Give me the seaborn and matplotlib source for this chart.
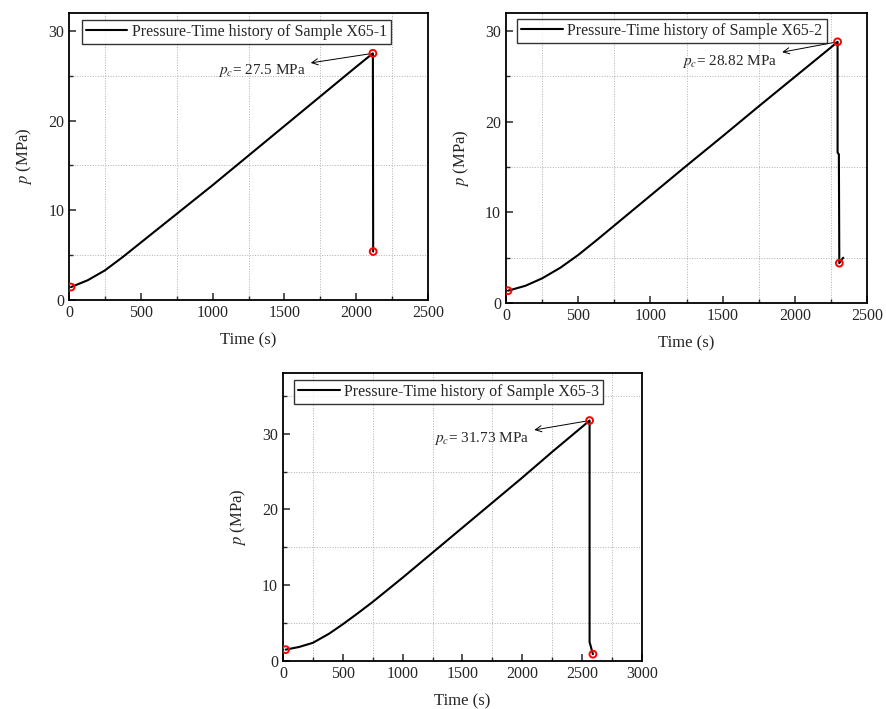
import matplotlib
matplotlib.use("Agg")
import matplotlib.pyplot as plt
from matplotlib.ticker import MultipleLocator
import numpy as np
import pandas as pd
import seaborn as sns

# Sample X65-1
t1 = [14, 130, 250, 375, 500, 625, 750, 875, 1000, 1250, 1500, 1750, 2000, 2116, 2118]
p1 = [1.44, 2.2, 3.3, 4.8, 6.4, 8.0, 9.6, 11.2, 12.8, 16.1, 19.4, 22.7, 26.0, 27.5, 5.4]
mark1_t = [14, 2116, 2118]
mark1_p = [1.44, 27.5, 5.4]

# Sample X65-2
t2 = [14, 134, 250, 377, 500, 625, 750, 875, 1000, 1250, 1500, 1750, 2000, 2250, 2296, 2296, 2305, 2308, 2335]
p2 = [1.36, 1.9, 2.72, 3.9, 5.3, 6.9, 8.55, 10.2, 11.85, 15.15, 18.4, 21.7, 24.95, 28.2, 28.82, 16.6, 16.4, 4.4, 5.0]
mark2_t = [14, 2296, 2308]
mark2_p = [1.36, 28.82, 4.4]

# Sample X65-3
t3 = [22, 134, 250, 385, 500, 625, 750, 875, 1000, 1250, 1500, 1750, 2000, 2250, 2500, 2562, 2562, 2590]
p3 = [1.5, 1.85, 2.4, 3.6, 4.85, 6.3, 7.8, 9.4, 11.0, 14.3, 17.6, 20.9, 24.2, 27.6, 30.9, 31.73, 2.5, 0.9]
mark3_t = [22, 2562, 2590]
mark3_p = [1.5, 31.73, 0.9]

sns.set_style("ticks")
plt.rcParams["font.family"] = ["Liberation Serif", "DejaVu Serif"]
plt.rcParams["mathtext.fontset"] = "stix"
plt.rcParams["xtick.direction"] = "in"
plt.rcParams["ytick.direction"] = "in"

fig = plt.figure(figsize=(8.86, 7.09), dpi=100)

panels = [
    dict(rect=[0.0779, 0.5769, 0.4052, 0.4048], t=t1, p=p1, mt=mark1_t, mp=mark1_p,
         name="X65-1", xmax=2500, ymax=32, pc="27.5", txt=(1040, 25.6), leg=(0.036, 0.976)),
    dict(rect=[0.5711, 0.5726, 0.4075, 0.4091], t=t2, p=p2, mt=mark2_t, mp=mark2_p,
         name="X65-2", xmax=2500, ymax=32, pc="28.82", txt=(1220, 26.6), leg=(0.031, 0.979)),
    dict(rect=[0.3194, 0.0677, 0.4052, 0.4062], t=t3, p=p3, mt=mark3_t, mp=mark3_p,
         name="X65-3", xmax=3000, ymax=38, pc="31.73", txt=(1265, 29.3), leg=(0.031, 0.976)),
]

for pn in panels:
    ax = fig.add_axes(pn["rect"])
    df = pd.DataFrame({"Time": pn["t"], "p": pn["p"]})
    sns.lineplot(data=df, x="Time", y="p", sort=False, estimator=None, color="black",
                 linewidth=1.5, ax=ax, label=f"Pressure-Time history of Sample {pn['name']}")
    sns.scatterplot(x=pn["mt"], y=pn["mp"], ax=ax, s=24, facecolor="none",
                    edgecolor="red", linewidth=1.4, zorder=5)

    ax.set_xlim(0, pn["xmax"])
    ax.set_ylim(0, pn["ymax"])
    ax.xaxis.set_major_locator(MultipleLocator(500))
    ax.xaxis.set_minor_locator(MultipleLocator(250))
    ax.yaxis.set_major_locator(MultipleLocator(10))
    ax.yaxis.set_minor_locator(MultipleLocator(5))
    ax.tick_params(which="major", length=5, width=1.1, labelsize=11.5)
    ax.tick_params(which="minor", length=3, width=1.0)
    ax.grid(False, which="major")
    ax.grid(True, which="minor", linestyle=":", color="#b0b0b0", linewidth=0.7)
    for s in ax.spines.values():
        s.set_linewidth(1.3)
        s.set_color("black")

    ax.set_xlabel("Time (s)", fontsize=12, labelpad=8)
    ax.set_ylabel("$p$ (MPa)", fontsize=12, labelpad=10)

    peak_t, peak_p = pn["mt"][1], pn["mp"][1]
    ax.annotate(f"$p_c$= {pn['pc']} MPa", xy=(peak_t, peak_p), xytext=pn["txt"],
                fontsize=11, va="center", ha="left",
                arrowprops=dict(arrowstyle="<-", color="black", lw=0.7,
                                shrinkA=1, shrinkB=2))

    leg = ax.legend(loc="upper left", bbox_to_anchor=pn["leg"], borderaxespad=0,
                    fontsize=11.5, frameon=True, fancybox=False, handlelength=2.6,
                    handletextpad=0.3, borderpad=0.25)
    leg.get_frame().set_edgecolor("black")
    leg.get_frame().set_linewidth(1.0)

fig.savefig("out.png", dpi=100)
